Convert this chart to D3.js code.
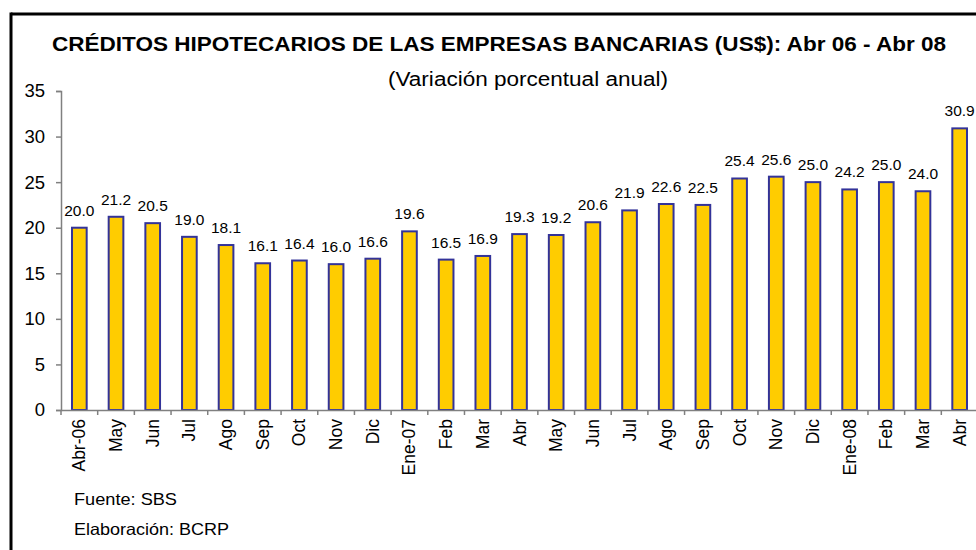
<!DOCTYPE html>
<html><head><meta charset="utf-8">
<script src="https://cdn.jsdelivr.net/npm/d3@7"></script>
<style>body{margin:0;background:#fff}svg{display:block}text{font-family:"Liberation Sans",Arial,sans-serif;fill:#000}</style>
</head><body>
<script>
const categories = ["Abr-06","May","Jun","Jul","Ago","Sep","Oct","Nov","Dic","Ene-07","Feb","Mar","Abr","May","Jun","Jul","Ago","Sep","Oct","Nov","Dic","Ene-08","Feb","Mar","Abr"];
const values = [20.0,21.2,20.5,19.0,18.1,16.1,16.4,16.0,16.6,19.6,16.5,16.9,19.3,19.2,20.6,21.9,22.6,22.5,25.4,25.6,25.0,24.2,25.0,24.0,30.9];
const yTicks = [0,5,10,15,20,25,30,35];
const title = "CRÉDITOS HIPOTECARIOS DE LAS EMPRESAS BANCARIAS (US$): Abr 06 - Abr 08";
const subtitle = "(Variación porcentual anual)";
const notes = ["Fuente: SBS","Elaboración: BCRP"];

const W=976,H=550;
const svg=d3.select("body").append("svg").attr("width",W).attr("height",H);

// frame
svg.append("line").attr("x1",11).attr("x2",W).attr("y1",14).attr("y2",14).attr("stroke","#000").attr("stroke-width",3);
svg.append("line").attr("x1",11).attr("x2",11).attr("y1",12.5).attr("y2",H).attr("stroke","#000").attr("stroke-width",3);

const x0=61,x1=978,yTop=91,yBot=410;
const idx=categories.map((d,i)=>i);
const x=d3.scaleBand().domain(idx).range([x0,x1]).paddingInner(0.6).paddingOuter(0.3);
const y=d3.scaleLinear().domain([0,35]).range([yBot,yTop]);

svg.append("text").attr("x",52).attr("y",51).attr("font-weight","bold").attr("font-size",20)
 .attr("textLength",894).attr("lengthAdjust","spacingAndGlyphs").text(title);
svg.append("text").attr("x",388).attr("y",86).attr("font-size",19.5)
 .attr("textLength",280).attr("lengthAdjust","spacingAndGlyphs").text(subtitle);

// y axis
const ya=svg.append("g").attr("transform",`translate(${x0},0)`).call(d3.axisLeft(y).tickValues(yTicks).tickSize(5).tickPadding(11).tickFormat(d3.format("d")));
ya.select(".domain").attr("stroke","#808080").attr("stroke-width",1.5);
ya.selectAll(".tick line").attr("stroke","#808080").attr("stroke-width",1.5);
ya.selectAll(".tick text").attr("font-size",18.5).attr("font-family","Liberation Sans, Arial, sans-serif").attr("fill","#000");

// bars
svg.append("g").selectAll("rect").data(values).join("rect")
 .attr("x",(d,i)=>x(i)).attr("width",x.bandwidth())
 .attr("y",d=>y(d)).attr("height",d=>y(0)-y(d))
 .attr("fill","#FFCC00").attr("stroke","#333399").attr("stroke-width",2);

// labels
svg.append("g").selectAll("text").data(values).join("text")
 .attr("x",(d,i)=>x(i)+x.bandwidth()/2).attr("y",d=>y(d)-12)
 .attr("text-anchor","middle").attr("font-size",15.5).text(d=>d.toFixed(1));

// x axis
const xa=svg.append("g").attr("transform",`translate(0,${yBot})`)
 .call(d3.axisBottom(x).tickSize(0).tickFormat(i=>categories[i]));
xa.select(".domain").attr("stroke","#808080").attr("stroke-width",1.5);
xa.selectAll(".tick text").attr("font-size",17.5).attr("font-family","Liberation Sans, Arial, sans-serif").attr("fill","#000")
 .attr("text-anchor","end").attr("dy",null).attr("transform","translate(6,0) rotate(-90)").attr("x",-9).attr("y",0);
// boundary ticks
const step=x.step();
svg.append("g").selectAll("line").data(d3.range(categories.length+1)).join("line")
 .attr("x1",i=>x0+i*step).attr("x2",i=>x0+i*step).attr("y1",yBot).attr("y2",yBot+5)
 .attr("stroke","#808080").attr("stroke-width",1.5);

const noteLen=[103,155];
svg.append("g").selectAll("text").data(notes).join("text")
 .attr("x",74).attr("y",(d,i)=>505+i*30).attr("font-size",16.5)
 .attr("textLength",(d,i)=>noteLen[i]).attr("lengthAdjust","spacingAndGlyphs").text(d=>d);
</script>
</body></html>
